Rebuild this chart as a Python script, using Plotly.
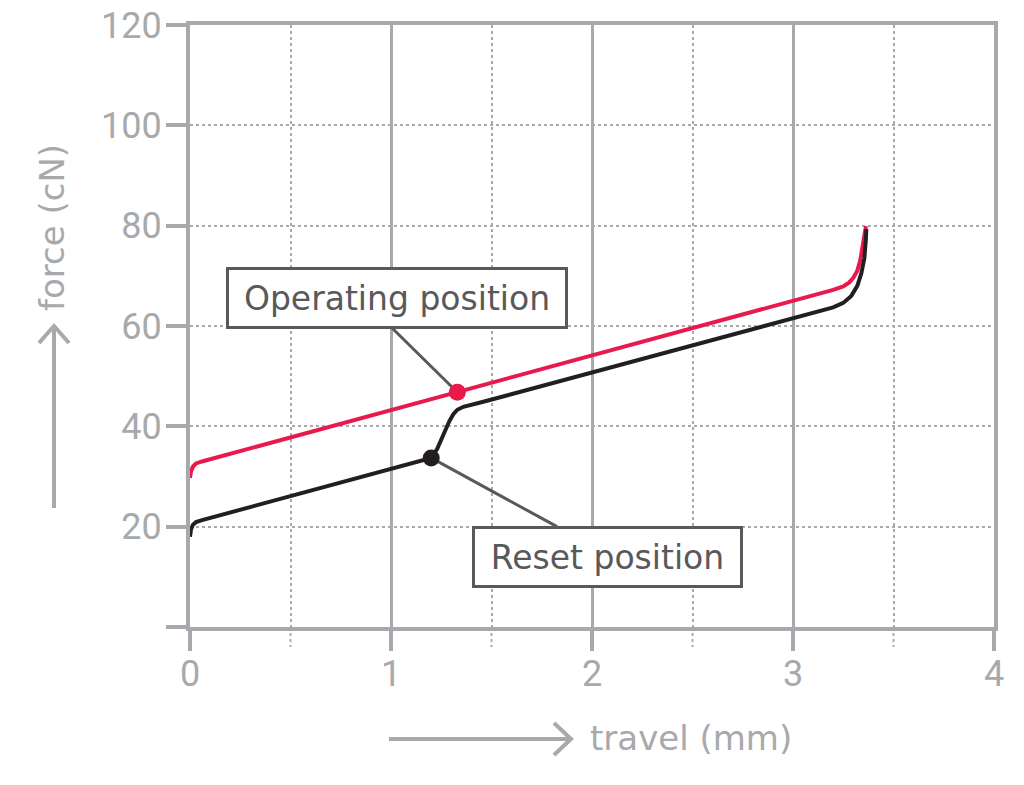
import plotly.graph_objects as go

# ---------------- data ----------------
operating_x = [0, 0.005, 0.015, 0.03, 0.06, 1.33, 3.2, 3.25, 3.28, 3.30, 3.32, 3.335, 3.348, 3.356, 3.363]
operating_y = [29.7, 31.0, 32.0, 32.6, 33.0, 46.8, 67.2, 67.9, 68.7, 69.6, 71.0, 73.2, 76.3, 78.2, 79.9]

reset_x = [0, 0.005, 0.015, 0.03, 0.06, 1.2, 1.23, 1.26, 1.29, 1.31, 1.33, 1.36, 1.40, 1.45,
           3.2, 3.25, 3.29, 3.32, 3.34, 3.355, 3.362, 3.365]
reset_y = [18.0, 19.5, 20.4, 20.9, 21.3, 33.7, 35.5, 38.5, 41.0, 42.4, 43.3, 43.9, 44.3, 44.8,
           63.7, 64.6, 66.0, 68.0, 70.5, 73.5, 77.0, 79.3]

operating_point = (1.33, 46.8)
reset_point = (1.2, 33.7)

x_ticks = [0, 1, 2, 3, 4]
x_tick_labels = ["0", "1", "2", "3", "4"]
x_minor = [0.5, 1.5, 2.5, 3.5]
y_ticks = [0, 20, 40, 60, 80, 100, 120]
y_tick_labels = ["", "20", "40", "60", "80", "100", "120"]

# ---------------- styling ----------------
GRAY = "#a7a9ac"
DARK = "#58595b"
RED = "#e8194b"
BLACK = "#231f20"
TICKFONT = "Roboto, sans-serif"
TEXTFONT = "DejaVu Sans, sans-serif"

W, H = 1024, 785
PX0, PX1, PY0, PY1 = 190, 994, 25, 627  # plot area on the page
L, R, T, B = PX0, W - PX1, PY0, H - PY1
PW, PH = PX1 - PX0, PY1 - PY0


def px(xpix):
    return (xpix - PX0) / PW


def py(ypix):
    return (PY1 - ypix) / PH


fig = go.Figure()

# leader lines
fig.add_trace(go.Scatter(x=[operating_point[0], 0.995], y=[operating_point[1], 60.0],
                         mode="lines", line=dict(color=DARK, width=3), hoverinfo="skip"))
fig.add_trace(go.Scatter(x=[reset_point[0], 1.826], y=[reset_point[1], 20.0],
                         mode="lines", line=dict(color=DARK, width=3), hoverinfo="skip"))

# curves
fig.add_trace(go.Scatter(x=operating_x, y=operating_y, mode="lines",
                         line=dict(color=RED, width=4)))
fig.add_trace(go.Scatter(x=reset_x, y=reset_y, mode="lines",
                         line=dict(color=BLACK, width=4)))

# points
fig.add_trace(go.Scatter(x=[operating_point[0]], y=[operating_point[1]], mode="markers",
                         marker=dict(color=RED, size=17)))
fig.add_trace(go.Scatter(x=[reset_point[0]], y=[reset_point[1]], mode="markers",
                         marker=dict(color=BLACK, size=17)))

fig.update_layout(
    width=W, height=H,
    margin=dict(l=L, r=R, t=T, b=B, autoexpand=False),
    paper_bgcolor="white", plot_bgcolor="white",
    showlegend=False,
    xaxis=dict(
        range=[0, 4], tickvals=x_ticks, ticktext=x_tick_labels,
        showline=True, linecolor=GRAY, linewidth=4, mirror=True,
        ticks="outside", ticklen=20, tickwidth=4, tickcolor=GRAY,
        tickfont=dict(family=TICKFONT, size=36, color=GRAY),
        ticklabelstandoff=-8, ticklabeloverflow="allow",
        showgrid=True, gridcolor=GRAY, gridwidth=3,
        minor=dict(tickvals=x_minor, showgrid=True, gridcolor=GRAY, gridwidth=2, griddash="dot"),
        zeroline=False, fixedrange=True, automargin=False,
    ),
    yaxis=dict(
        range=[0, 120], tickvals=y_ticks, ticktext=y_tick_labels,
        showline=True, linecolor=GRAY, linewidth=4, mirror=True,
        ticks="outside", ticklen=20, tickwidth=4, tickcolor=GRAY,
        tickfont=dict(family=TICKFONT, size=36, color=GRAY),
        ticklabelstandoff=-3, ticklabeloverflow="allow",
        showgrid=True, gridcolor=GRAY, gridwidth=2, griddash="dot",
        zeroline=False, fixedrange=True, automargin=False,
    ),
)

# minor ticks (dotted) below x axis
for xm in x_minor:
    fig.add_shape(type="line", xref="paper", yref="paper",
                  x0=xm / 4, x1=xm / 4, y0=0, y1=py(647),
                  line=dict(color=GRAY, width=2, dash="dot"))

# axis title arrows
fig.add_shape(type="path", xref="paper", yref="paper",
              path=f"M {px(389)},{py(739)} L {px(571)},{py(739)} "
                   f"M {px(554)},{py(723)} L {px(571)},{py(739)} L {px(554)},{py(755)}",
              line=dict(color=GRAY, width=4))
fig.add_shape(type="path", xref="paper", yref="paper",
              path=f"M {px(54)},{py(508)} L {px(54)},{py(326)} "
                   f"M {px(39)},{py(343)} L {px(54)},{py(326)} L {px(69)},{py(343)}",
              line=dict(color=GRAY, width=4))

fig.add_annotation(text="travel (mm)", xref="paper", yref="paper",
                   x=px(588), y=py(738), xanchor="left", yanchor="middle",
                   showarrow=False, font=dict(family=TEXTFONT, size=34, color=GRAY))
fig.add_annotation(text="force (cN)", xref="paper", yref="paper",
                   x=px(52), y=py(228), xanchor="center", yanchor="middle", textangle=-90,
                   showarrow=False, font=dict(family=TEXTFONT, size=34, color=GRAY))

# labelled boxes
fig.add_annotation(text="Operating position", xref="paper", yref="paper",
                   x=px(397), y=py(297.5), xanchor="center", yanchor="middle",
                   showarrow=False, font=dict(family=TEXTFONT, size=33, color=DARK),
                   bgcolor="white", bordercolor=DARK, borderwidth=3, borderpad=0,
                   width=336, height=56)
fig.add_annotation(text="Reset position", xref="paper", yref="paper",
                   x=px(607.5), y=py(557), xanchor="center", yanchor="middle",
                   showarrow=False, font=dict(family=TEXTFONT, size=33, color=DARK),
                   bgcolor="white", bordercolor=DARK, borderwidth=3, borderpad=0,
                   width=265, height=56)

fig.write_html(
    "out.html",
    config={"displayModeBar": False},
    post_script="document.body.style.margin='0px';document.body.style.overflow='hidden';",
)
